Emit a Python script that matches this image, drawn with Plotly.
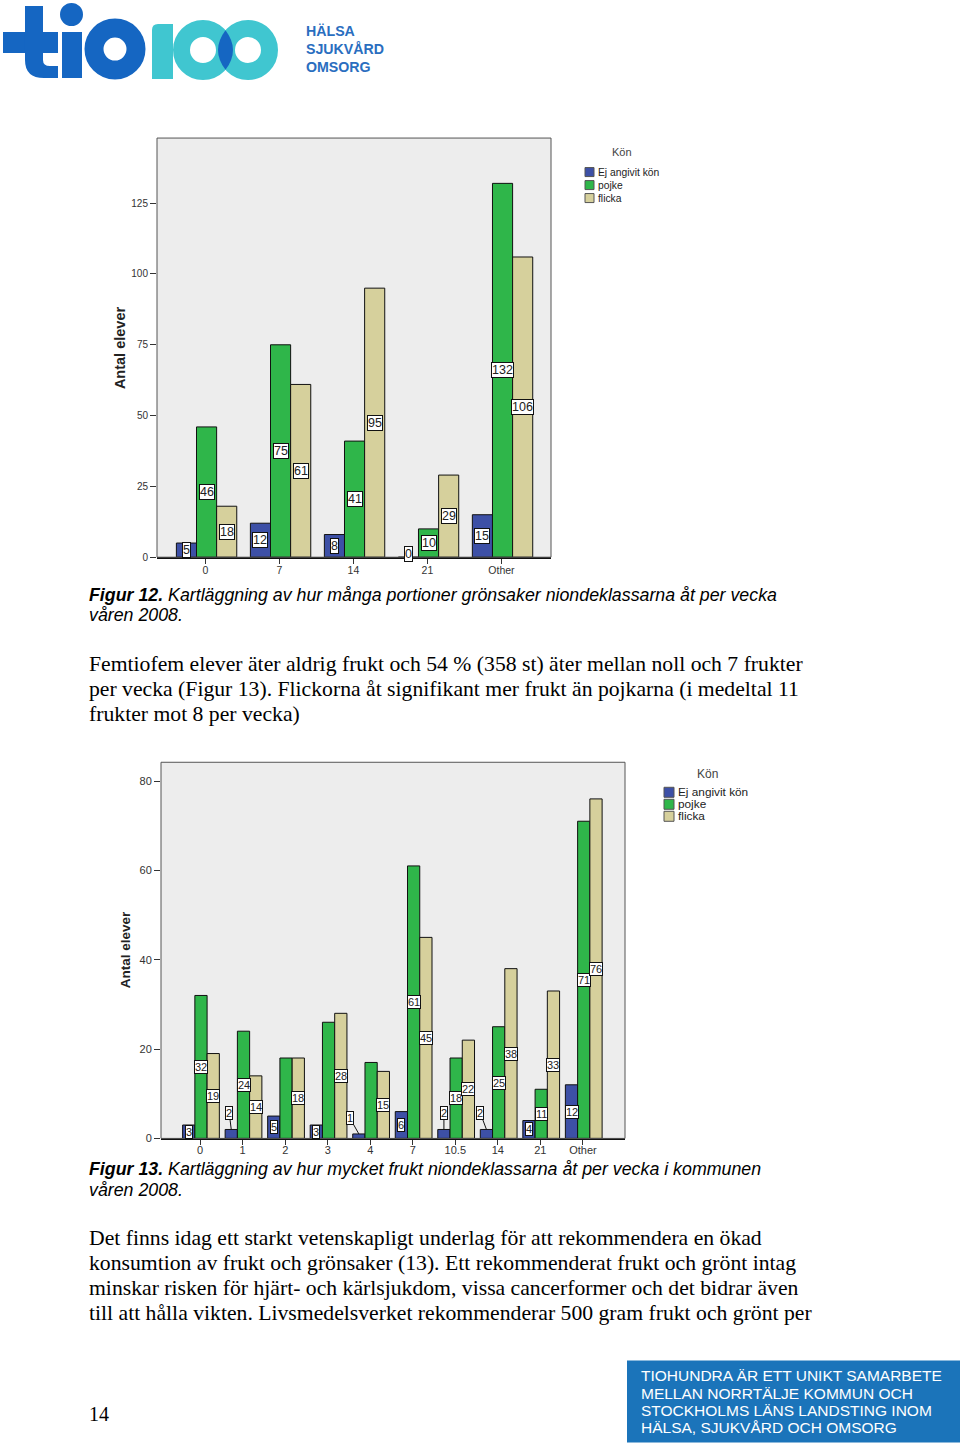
import plotly.graph_objects as go

W, H = 960, 1448
VK = 1 / 0.9955  # vertical compensation observed in the rendered page

# ---------------- data ----------------
series_names = ["Ej angivit kön", "pojke", "flicka"]

cats1 = ["0", "7", "14", "21", "Other"]
ej1 = [5, 12, 8, 0, 15]
pojke1 = [46, 75, 41, 10, 132]
flicka1 = [18, 61, 95, 29, 106]
yticks1 = [0, 25, 50, 75, 100, 125]

cats2 = ["0", "1", "2", "3", "4", "7", "10.5", "14", "21", "Other"]
ej2 = [3, 2, 5, 3, 1, 6, 2, 2, 4, 12]
pojke2 = [32, 24, 18, 26, 17, 61, 18, 25, 11, 71]
flicka2 = [19, 14, 18, 28, 15, 45, 22, 38, 33, 76]
yticks2 = [0, 20, 40, 60, 80]

caption1 = ["<b>Figur 12.</b> Kartläggning av hur många portioner grönsaker niondeklassarna åt per vecka",
            "våren 2008."]
body1 = ["Femtiofem elever äter aldrig frukt och 54 % (358 st) äter mellan noll och 7 frukter",
         "per vecka (Figur 13). Flickorna åt signifikant mer frukt än pojkarna (i medeltal 11",
         "frukter mot 8 per vecka)"]
caption2 = ["<b>Figur 13.</b> Kartläggning av hur mycket frukt niondeklassarna åt per vecka i kommunen",
            "våren 2008."]
body2 = ["Det finns idag ett starkt vetenskapligt underlag för att rekommendera en ökad",
         "konsumtion av frukt och grönsaker (13). Ett rekommenderat frukt och grönt intag",
         "minskar risken för hjärt- och kärlsjukdom, vissa cancerformer och det bidrar även",
         "till att hålla vikten. Livsmedelsverket rekommenderar 500 gram frukt och grönt per"]
footer = ["TIOHUNDRA ÄR ETT UNIKT SAMARBETE",
          "MELLAN NORRTÄLJE KOMMUN OCH",
          "STOCKHOLMS LÄNS LANDSTING INOM",
          "HÄLSA, SJUKVÅRD OCH OMSORG"]
logo_words = ["HÄLSA", "SJUKVÅRD", "OMSORG"]
page_number = "14"

# ---------------- styling ----------------
colors = ["#3d50a6", "#2fb64a", "#d6d09c"]
BLUE = "#1566c2"
CYAN = "#40c6d0"
SANS = "Liberation Sans, Arial, sans-serif"
SERIF = "Liberation Serif, Times New Roman, serif"


def px(x):
    return x / W


def py(y):
    return 1 - (y * VK) / H


fig = go.Figure()

# chart geometry (pixels)
c1 = dict(x0=157, x1=551, y0=138, y1=557)
c2 = dict(x0=161, x1=625, y0=762, y1=1138)
w1, ctr1 = 0.272, 0.015
w2, ctr2 = 0.288, 0.02

for s, (name, vals) in enumerate(zip(series_names, [ej1, pojke1, flicka1])):
    fig.add_trace(go.Bar(x=cats1, y=vals, name=name, xaxis="x", yaxis="y",
                         width=w1, offset=ctr1 + (s - 1.5) * w1,
                         marker=dict(color=colors[s], line=dict(color="#111", width=1)),
                         showlegend=False, hoverinfo="x+y+name"))
for s, (name, vals) in enumerate(zip(series_names, [ej2, pojke2, flicka2])):
    fig.add_trace(go.Bar(x=cats2, y=vals, name=name, xaxis="x2", yaxis="y2",
                         width=w2, offset=ctr2 + (s - 1.5) * w2,
                         marker=dict(color=colors[s], line=dict(color="#111", width=1)),
                         showlegend=False, hoverinfo="x+y+name"))

annotations = []
shapes = []


def bar_labels(series, xref, yref, w, ctr, fs, hidden=(), callouts=None, yshifts=None):
    callouts = callouts or {}
    yshifts = yshifts or {}
    for s, vals in enumerate(series):
        for i, v in enumerate(vals):
            if (i, s) in hidden:
                continue
            xpos = i + ctr + (s - 1) * w
            a = dict(x=xpos, y=v / 2, xref=xref, yref=yref, text=str(v),
                     font=dict(family=SANS, size=fs, color="#222"),
                     bgcolor="white", bordercolor="#111", borderwidth=1, borderpad=0,
                     showarrow=False)
            if (i, s) in callouts:
                ax, ay = callouts[(i, s)]
                a.update(y=v, showarrow=True, arrowhead=0, arrowwidth=1, arrowcolor="#111",
                         ax=ax, ay=ay, standoff=0)
            if (i, s) in yshifts:
                a.update(yshift=yshifts[(i, s)])
            annotations.append(a)


bar_labels([ej1, pojke1, flicka1], "x", "y", w1, ctr1, 12.5, yshifts={(3, 0): 3})
bar_labels([ej2, pojke2, flicka2], "x2", "y2", w2, ctr2, 11,
           hidden={(2, 1), (3, 1), (4, 1)},
           callouts={(1, 0): (-2, -16), (4, 0): (-9, -16), (6, 0): (0, -16), (7, 0): (-6, -16)})

# frames
for xr, yr in [("x domain", "y domain"), ("x2 domain", "y2 domain")]:
    shapes.append(dict(type="rect", xref=xr, yref=yr, x0=0, x1=1, y0=0, y1=1,
                       line=dict(color="#555", width=1), fillcolor="rgba(0,0,0,0)"))

# axis titles
annotations.append(dict(x=px(120), y=py(348), xref="paper", yref="paper", text="<b>Antal elever</b>",
                        xanchor="center", yanchor="middle",
                        textangle=-90, showarrow=False, font=dict(family=SANS, size=14.5, color="#222")))
annotations.append(dict(x=px(125), y=py(950), xref="paper", yref="paper", text="<b>Antal elever</b>",
                        xanchor="center", yanchor="middle",
                        textangle=-90, showarrow=False, font=dict(family=SANS, size=13.5, color="#222")))


# legends
def legend(title_xy, title_size, sw_x, sw_size, ys, text_x, fs):
    annotations.append(dict(x=px(title_xy[0]), y=py(title_xy[1]), xref="paper", yref="paper",
                            xanchor="center", yanchor="middle",
                            text="Kön", showarrow=False, font=dict(family=SANS, size=title_size, color="#444")))
    for name, col, yc in zip(series_names, colors, ys):
        shapes.append(dict(type="rect", xref="paper", yref="paper",
                           x0=px(sw_x), x1=px(sw_x + sw_size),
                           y0=py(yc + sw_size / 2), y1=py(yc - sw_size / 2),
                           fillcolor=col, line=dict(color="#555", width=1)))
        annotations.append(dict(x=px(text_x), y=py(yc), xref="paper", yref="paper", text=name,
                                xanchor="left", yanchor="middle", showarrow=False,
                                font=dict(family=SANS, size=fs, color="#222")))


legend((622, 152), 11, 585, 9, [172, 185, 198], 596, 10.3)
legend((707, 774), 12, 664, 10, [792, 804, 816], 676, 11.8)


# text blocks
def text_lines(lines, x, ys, size, family, color="black", italic=False):
    for t, y in zip(lines, ys):
        annotations.append(dict(x=px(x), y=py(y), xref="paper", yref="paper",
                                text=f"<i>{t}</i>" if italic else t,
                                xanchor="left", yanchor="middle", showarrow=False,
                                font=dict(family=family, size=size, color=color)))


text_lines(caption1, 87, [595, 615], 17.8, SANS, italic=True)
text_lines(body1, 87, [664, 689, 714], 21.7, SERIF)
text_lines(caption2, 87, [1169, 1190], 17.8, SANS, italic=True)
text_lines(body2, 87, [1238, 1263, 1288, 1313], 21.7, SERIF)
text_lines([page_number], 87, [1413], 20, SERIF)

# footer box
shapes.append(dict(type="rect", xref="paper", yref="paper", x0=px(627), x1=px(960),
                   y0=py(1442), y1=py(1360), fillcolor="#1b74ba", line=dict(width=0), layer="below"))
text_lines(footer, 639, [1375, 1393, 1410, 1427], 15.5, SANS, color="white")

# logo
def P(x, y):
    return f"{px(x):.5f},{py(y):.5f}"

shapes.append(dict(type="rect", xref="paper", yref="paper", x0=px(3), x1=px(58), y0=py(53), y1=py(32),
                   fillcolor=BLUE, line=dict(width=0)))
shapes.append(dict(type="path", xref="paper", yref="paper",
                   path=f"M{P(25,6)} L{P(43,6)} L{P(43,60)} Q{P(43,66)} {P(50,66)} L{P(58,66)} "
                        f"L{P(58,78)} L{P(44,78)} Q{P(25,78)} {P(25,60)} Z",
                   fillcolor=BLUE, line=dict(width=0)))
shapes.append(dict(type="rect", xref="paper", yref="paper", x0=px(62), x1=px(82), y0=py(78), y1=py(32),
                   fillcolor=BLUE, line=dict(width=0)))
shapes.append(dict(type="circle", xref="paper", yref="paper", x0=px(60), x1=px(83), y0=py(26), y1=py(3),
                   fillcolor=BLUE, line=dict(width=0)))
shapes.append(dict(type="circle", xref="paper", yref="paper", x0=px(94), x1=px(136), y0=py(70), y1=py(28),
                   fillcolor="rgba(0,0,0,0)", line=dict(color=BLUE, width=19)))
shapes.append(dict(type="path", xref="paper", yref="paper",
                   path=f"M{P(152,30)} Q{P(152,24)} {P(158,24)} L{P(173,24)} L{P(173,79)} L{P(152,79)} Z",
                   fillcolor=CYAN, line=dict(width=0)))
for cx in (203, 248):
    shapes.append(dict(type="circle", xref="paper", yref="paper", x0=px(cx - 21.5), x1=px(cx + 21.5),
                       y0=py(71.5), y1=py(28.5), fillcolor="rgba(0,0,0,0)", line=dict(color=CYAN, width=17)))
shapes.append(dict(type="path", xref="paper", yref="paper",
                   path=f"M{P(225.5,30.2)} Q{P(210.5,50)} {P(225.5,69.8)} Q{P(240.5,50)} {P(225.5,30.2)} Z",
                   fillcolor=BLUE, line=dict(width=0)))
text_lines([f"<b>{w}</b>" for w in logo_words], 304, [31, 49, 67], 14.2, SANS, color="#2a6ebf")

axis_common = dict(showgrid=False, zeroline=False, ticks="outside", tickcolor="#333", fixedrange=True)

fig.update_layout(
    width=W, height=H,
    margin=dict(l=0, r=0, t=0, b=0),
    paper_bgcolor="white",
    plot_bgcolor="#ededed",
    barmode="group",
    xaxis=dict(domain=[px(c1["x0"]), px(c1["x1"])], anchor="y", type="category",
               range=[-0.655, 4.67], showline=True, linecolor="#111", linewidth=2, ticklen=5,
               ticklabelstandoff=-3,
               tickfont=dict(family=SANS, size=10.5, color="#333"), **axis_common),
    yaxis=dict(domain=[py(c1["y1"]), py(c1["y0"])], anchor="x", range=[0, 148],
               tickvals=yticks1, showline=False, ticklen=6,
               tickfont=dict(family=SANS, size=10, color="#333"), **axis_common),
    xaxis2=dict(domain=[px(c2["x0"]), px(c2["x1"])], anchor="y2", type="category",
                range=[-0.92, 9.99], showline=True, linecolor="#111", linewidth=2, ticklen=5,
                ticklabelstandoff=-5,
                tickfont=dict(family=SANS, size=11, color="#333"), **axis_common),
    yaxis2=dict(domain=[py(c2["y1"]), py(c2["y0"])], anchor="x2", range=[0, 84.2],
                tickvals=yticks2, showline=False, ticklen=6,
                tickfont=dict(family=SANS, size=11, color="#333"), **axis_common),
    annotations=annotations,
    shapes=shapes,
)

fig.write_html("out.html", config={"displayModeBar": False}, post_script=(
    "var st=document.createElement('style');"
    "st.innerHTML='html,body{margin:0;padding:0;overflow:hidden;height:1448px;}"
    " .plotly-graph-div{display:block;}';"
    "document.head.appendChild(st);"))
